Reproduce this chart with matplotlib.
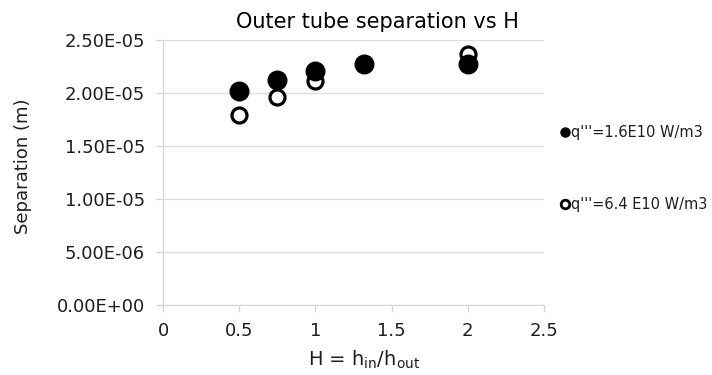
import matplotlib.pyplot as plt

plt.rcParams['font.family'] = ['DejaVu Sans']

# separation at the outer tube for two heat generation rates
h_low = [0.5, 0.75, 1.0, 1.32, 2.0]
sep_low = [2.02e-5, 2.12e-5, 2.21e-5, 2.27e-5, 2.27e-5]
h_high = [0.5, 0.75, 1.0, 2.0]
sep_high = [1.79e-5, 1.96e-5, 2.11e-5, 2.37e-5]

label_low = "q'''=1.6E10 W/m3"
label_high = "q'''=6.4 E10 W/m3"
y_ticks = [0, 5e-6, 1e-5, 1.5e-5, 2e-5, 2.5e-5]
x_ticks = [0, 0.5, 1, 1.5, 2, 2.5]

text_col = '#1e1e1e'
line_col = '#d4d4d4'

fig = plt.figure(figsize=(7.12, 3.75), dpi=100)
ax = fig.add_axes([0.229, 0.187, 0.535, 0.706])

ax.plot(h_high, sep_high, 'o', ms=10.8, mfc='white', mec='black', mew=2.3,
        zorder=3, label=label_high)
ax.plot(h_low, sep_low, 'o', ms=13.4, color='black', zorder=4, label=label_low)

ax.set_xlim(0, 2.5)
ax.set_ylim(0, 2.5e-5)
ax.set_xticks(x_ticks)
ax.set_xticklabels(['0', '0.5', '1', '1.5', '2', '2.5'])
ax.set_yticks(y_ticks)
ax.set_yticklabels([f'{v:.2E}' for v in y_ticks])
ax.tick_params(labelsize=13, colors=line_col, labelcolor=text_col, length=5, width=1)
ax.tick_params(axis='y', pad=8)
ax.tick_params(axis='x', pad=7)
ax.grid(axis='y', color='#dedede', lw=1)
ax.set_axisbelow(True)
for s in ['top', 'right']:
    ax.spines[s].set_visible(False)
for s in ['left', 'bottom']:
    ax.spines[s].set_color(line_col)

ax.set_title('Outer tube separation vs H', fontsize=15, color='black',
             x=0.564, y=1.045, pad=0)
ax.set_xlabel('H = h$_\\mathregular{in}$/h$_\\mathregular{out}$', fontsize=14, color=text_col)
ax.xaxis.set_label_coords(0.528, -0.165)
ax.set_ylabel('Separation (m)', fontsize=13, color=text_col)
ax.yaxis.set_label_coords(-0.345, 0.525)

# legend sits to the right of the plot, filled series first
handles, labels = ax.get_legend_handles_labels()
leg = fig.legend(handles[::-1], labels[::-1], loc='upper left',
                 bbox_to_anchor=(0.78, 0.682), frameon=False, fontsize=10.5,
                 handlelength=0.5, handletextpad=0.2, labelspacing=3.9,
                 borderaxespad=0)
leg.legend_handles[0].set_markersize(6.5)
leg.legend_handles[1].set_markersize(6.2)
leg.legend_handles[1].set_markeredgewidth(2.0)
for t in leg.get_texts():
    t.set_color(text_col)

fig.savefig('out.png', dpi=100)
